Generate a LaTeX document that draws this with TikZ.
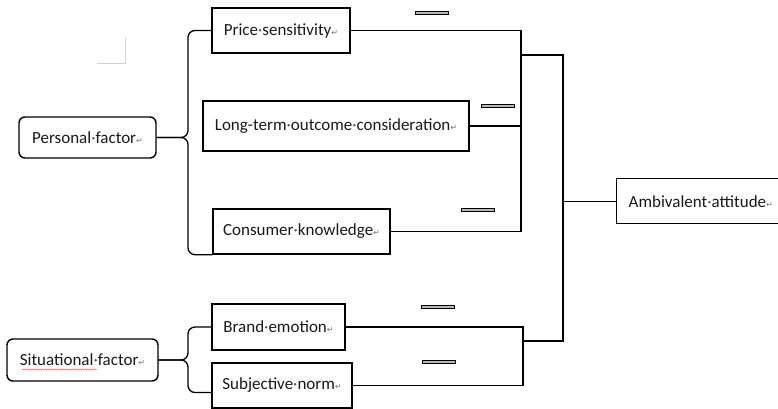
\documentclass[tikz,border=0pt]{standalone}
\usepackage{fontspec}
\setmainfont{Carlito}
\newfontfamily\symfont{DejaVu Sans}
\usetikzlibrary{calc,decorations.pathmorphing}
\newcommand\dt{{\color{black!65}·}}
\newcommand\rt{{\symfont\fontsize{8}{8}\selectfont\color{black!55}↵}}
\begin{document}
\begin{tikzpicture}[x=1pt,y=-1pt,
  box/.style={draw, line width=1.4pt, rectangle, inner sep=0pt, font=\fontsize{17}{19}\selectfont, text=black!90},
  rbox/.style={box, rounded corners=6pt},
  conn/.style={line width=1.3pt},
  dbar/.style={draw, line width=0.9pt, fill=gray!55}]
\useasboundingbox (0,0) rectangle (778,408);
% nodes
\node[box, minimum width=138pt, minimum height=45pt] (price) at (281,30.5) {Price\dt sensitivity\rt};
\node[box, minimum width=266pt, minimum height=50pt] (lt) at (336,126) {Long-term\dt outcome\dt consideration\rt};
\node[box, minimum width=177pt, minimum height=45pt] (cons) at (301.5,231.5) {Consumer\dt knowledge\rt};
\node[rbox, minimum width=137pt, minimum height=41pt] (pf) at (87.5,137.5) {Personal\dt factor\rt};
\node[box, anchor=north west, minimum width=170pt, minimum height=45pt, text width=146pt, align=left, inner xsep=12pt] (amb) at (616,178) {Ambivalent\dt attitude\rt};
\node[box, minimum width=133pt, minimum height=46pt] (bemo) at (278.5,327) {Brand\dt emotion\rt};
\node[box, minimum width=140pt, minimum height=45pt] (sn) at (282,385.5) {Subjective\dt norm\rt};
\node[rbox, minimum width=151pt, minimum height=42pt] (sf) at (82.5,360) {Situational\dt factor\rt};
% helper coordinates
\coordinate (pb) at (188,0);
\coordinate (r1) at (521,0);
\coordinate (r2) at (563,0);
\coordinate (r3) at (523,0);
\coordinate (a1) at (521,55);
\coordinate (a2) at (563,55);
\coordinate (b1) at (523,341);
\coordinate (b2) at (563,341);
% braces
\draw[conn, rounded corners=7pt] (pf.east) -| (pb |- price.west) -- (price.west);
\draw[conn, rounded corners=7pt] (pf.east) -| (pb |- cons.south west) -- (cons.south west);
\draw[conn, rounded corners=7pt] (sf.east) -| (pb |- bemo.west) -- (bemo.west);
\draw[conn, rounded corners=7pt] (sf.east) -| ($(pb |- sn.west)+(0,7)$) -- ($(sn.west)+(0,7)$);
% right side
\draw[conn] (price.east) -- (price.east -| r1) -- (cons.east -| r1) -- (cons.east);
\draw[conn] (lt.east) -- (lt.east -| r1);
\draw[conn] (bemo.east) -- (bemo.east -| r3) -- (sn.east -| r3) -- (sn.east);
\draw[conn] (a1) -- (a2) -- (b2) -- (b1);
\draw[conn] (amb.west) -- (amb.west -| r2);
% small double bars
\draw[dbar] (415,11.5) rectangle (448,14.5);
\draw[dbar] (481,104.5) rectangle (514,107.5);
\draw[dbar] (461,208.5) rectangle (494,211.5);
\draw[dbar] (421,305.5) rectangle (454,308.5);
\draw[dbar] (422,360.5) rectangle (455,363.5);
% grey corner mark
\draw[gray!35, line width=0.8pt] (97,63) -- (125,63) -- (125,37);
% spell-check squiggle
\draw[red!75, line width=0.4pt, decorate, decoration={snake, segment length=2.5pt, amplitude=0.7pt}] (22,369.5) -- (97,369.5);
\end{tikzpicture}
\end{document}
